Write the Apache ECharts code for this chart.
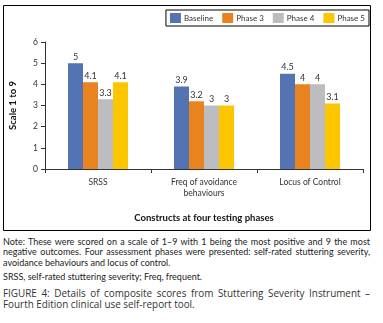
<!DOCTYPE html>
<html>
<head>
<meta charset="utf-8">
<script src="https://cdn.jsdelivr.net/npm/echarts@6/dist/echarts.min.js"></script>
<style>
  html, body { margin: 0; padding: 0; background: #fff; }
  #chart { position: absolute; left: 0; top: 0; width: 383px; height: 235px; }
  .note { position: absolute; left: 3px; width: 367px; font-family: Lato, sans-serif; color: #222; }
  #n1 { top: 237px; font-size: 9px; line-height: 10.3px; text-align: justify; text-align-last: left; }
  #n2 { top: 272px; font-size: 9px; line-height: 10px; }
  #cap { top: 288px; font-family: "Open Sans", sans-serif; font-size: 9.9px; line-height: 10.5px; color: #333; text-align: justify; text-align-last: left; }
</style>
</head>
<body>
<div id="chart"></div>
<div class="note" id="n1">Note: These were scored on a scale of 1–9 with 1 being the most positive and 9 the most negative outcomes. Four assessment phases were presented: self-rated stuttering severity, avoidance behaviours and locus of control.</div>
<div class="note" id="n2">SRSS, self-rated stuttering severity; Freq, frequent.</div>
<div class="note" id="cap">FIGURE 4: Details of composite scores from Stuttering Severity Instrument – Fourth Edition clinical use self-report tool.</div>
<script>
const categories = ['SRSS', 'Freq of avoidance\nbehaviours', 'Locus of Control'];
const phases = ['Baseline', 'Phase 3', 'Phase 4', 'Phase 5'];
const baseline = [5, 3.9, 4.5];
const phase3 = [4.1, 3.2, 4];
const phase4 = [3.3, 3, 4];
const phase5 = [4.1, 3, 3.1];
const colors = ['#5473B2', '#E8831F', '#BDBCC1', '#FCC700'];

const values = [baseline, phase3, phase4, phase5];
const font = 'Lato, sans-serif';

const chart = echarts.init(document.getElementById('chart'));

chart.setOption({
  animation: false,
  textStyle: { fontFamily: font },
  graphic: [{
    type: 'rect',
    shape: { x: 3.5, y: 5.5, width: 367, height: 225 },
    style: { fill: 'none', stroke: '#000', lineWidth: 1 }
  }],
  legend: {
    data: phases,
    icon: 'rect',
    top: 10,
    right: 14,
    itemWidth: 11,
    itemHeight: 10,
    itemGap: 9,
    padding: [3, 4, 3, 4],
    borderColor: '#000',
    borderWidth: 1,
    textStyle: { fontFamily: font, fontSize: 8, color: '#333', padding: [0, 0, 0, -2] }
  },
  grid: { left: 45, right: 20, top: 42, bottom: 66 },
  xAxis: {
    type: 'category',
    data: categories,
    name: 'Constructs at four testing phases',
    nameLocation: 'middle',
    nameGap: 44,
    nameTextStyle: { fontFamily: font, fontSize: 9.5, fontWeight: 'bold', color: '#111' },
    axisLine: { lineStyle: { color: '#333' } },
    axisTick: { show: true, length: 4, lineStyle: { color: '#333' } },
    axisLabel: { fontSize: 8.5, color: '#333', margin: 8, lineHeight: 11 }
  },
  yAxis: {
    type: 'value',
    min: 0,
    max: 6,
    interval: 1,
    name: 'Scale 1 to 9',
    nameLocation: 'middle',
    nameGap: 27,
    nameTextStyle: { fontFamily: font, fontSize: 9.5, fontWeight: 'bold', color: '#111' },
    axisLine: { show: true, lineStyle: { color: '#333' } },
    axisTick: { show: true, length: 4, lineStyle: { color: '#333' } },
    axisLabel: { fontSize: 8.5, color: '#333', margin: 7 },
    splitLine: { show: false }
  },
  series: phases.map((name, i) => ({
    name,
    type: 'bar',
    data: values[i],
    barWidth: 15,
    barGap: '0%',
    itemStyle: { color: colors[i] },
    label: { show: true, position: 'top', distance: 2, fontSize: 9, color: '#333' }
  }))
});
</script>
</body>
</html>
